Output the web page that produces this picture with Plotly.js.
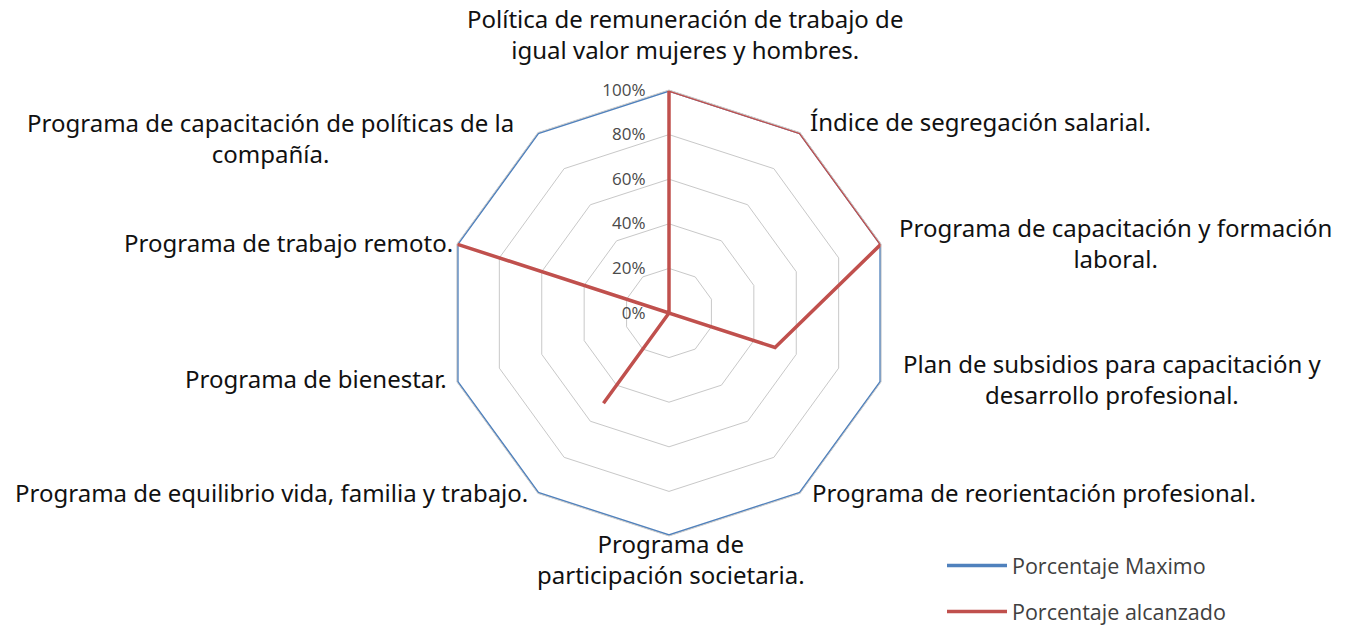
<!DOCTYPE html>
<html>
<head>
<meta charset="utf-8">
<script src="https://cdn.plot.ly/plotly-3.0.1.min.js"></script>
<style>html,body{margin:0;padding:0;background:#fff;overflow:hidden;}#chart{width:1349px;height:626px;}</style>
</head>
<body>
<div id="chart"></div>
<script>
var categories = [
  "Política de remuneración de trabajo de<br>igual valor mujeres y hombres.",
  "Índice de segregación salarial.",
  "Programa de capacitación y formación<br>laboral.",
  "Plan de subsidios para capacitación y<br>desarrollo profesional.",
  "Programa de reorientación profesional.",
  "Programa de<br>participación societaria.",
  "Programa de equilibrio vida, familia y trabajo.",
  "Programa de bienestar.",
  "Programa de trabajo remoto.",
  "Programa de capacitación de políticas de la<br>compañía."
];
var seriesNames = ["Porcentaje Maximo", "Porcentaje alcanzado"];
var maximo = [100, 100, 100, 100, 100, 100, 100, 100, 100, 100];
var alcanzado = [100, 100, 100, 50, 0, 0, 50, 0, 100, 0];
var radialTicks = [0, 20, 40, 60, 80, 100];
var radialTickText = ["0%", "20%", "40%", "60%", "80%", "100%"];

// label placement (pixel centers) - style only
var labelPos = [
  {x: 685, y: 34, anchor: "center"},
  {x: 808, y: 122, anchor: "left"},
  {x: 1115, y: 243, anchor: "center"},
  {x: 1112, y: 379, anchor: "center"},
  {x: 810, y: 492, anchor: "left"},
  {x: 671, y: 559, anchor: "center"},
  {x: 530, y: 492, anchor: "right"},
  {x: 449, y: 378, anchor: "right"},
  {x: 455, y: 242, anchor: "right"},
  {x: 270, y: 138, anchor: "center"}
];
var W = 1349, H = 626;

function closed(a) { return a.concat([a[0]]); }
var thetaIds = categories.map(function (c, i) { return "c" + i; });
var colors = ["#4F81BD", "#C0504D"];

var traces = [
  {
    type: "scatterpolar", mode: "lines", name: seriesNames[0],
    r: closed(maximo), theta: closed(thetaIds),
    line: {color: colors[0], width: 3.5}, legendgroup: "a", hoverinfo: "skip"
  },
  {
    type: "scatterpolar", mode: "lines", name: seriesNames[1],
    r: closed(alcanzado), theta: closed(thetaIds),
    line: {color: colors[1], width: 3.5}, legendgroup: "b", hoverinfo: "skip"
  }
];

var annotations = categories.map(function (c, i) {
  var p = labelPos[i];
  return {
    text: c, xref: "paper", yref: "paper",
    x: p.x / W, y: 1 - p.y / H,
    xanchor: p.anchor, yanchor: "middle", align: "center",
    showarrow: false,
    font: {family: "Noto Sans", size: 24, color: "#111"}
  };
});

var layout = {
  width: W, height: H,
  margin: {l: 0, r: 0, t: 0, b: 0, autoexpand: false},
  paper_bgcolor: "#fff",
  showlegend: true,
  legend: {
    x: 942 / W, y: 1 - 545 / H, xanchor: "left", yanchor: "top",
    font: {family: "Open Sans", size: 21.5, color: "#404040"},
    itemwidth: 60,
    tracegroupgap: 15, bgcolor: "rgba(0,0,0,0)"
  },
  polar: {
    domain: {x: [446 / W, 892 / W], y: [90 / H, 536 / H]},
    bgcolor: "#fff",
    gridshape: "linear",
    angularaxis: {
      type: "category", direction: "clockwise", rotation: 90,
      categoryarray: thetaIds,
      showticklabels: false, ticks: "", showgrid: false,
      showline: true, linecolor: "#cccccc", linewidth: 1
    },
    radialaxis: {
      range: [0, 100], tickvals: radialTicks, ticktext: radialTickText,
      angle: 90, side: "counterclockwise", tickangle: 90,
      showline: false, ticks: "outside", ticklen: 17, tickcolor: "rgba(0,0,0,0)",
      gridcolor: "#c8c8c8", gridwidth: 1,
      tickfont: {family: "Open Sans", size: 17, color: "#4a4a4a"}
    }
  },
  annotations: annotations
};

Plotly.newPlot("chart", traces, layout, {displayModeBar: false, staticPlot: true});
</script>
</body>
</html>
